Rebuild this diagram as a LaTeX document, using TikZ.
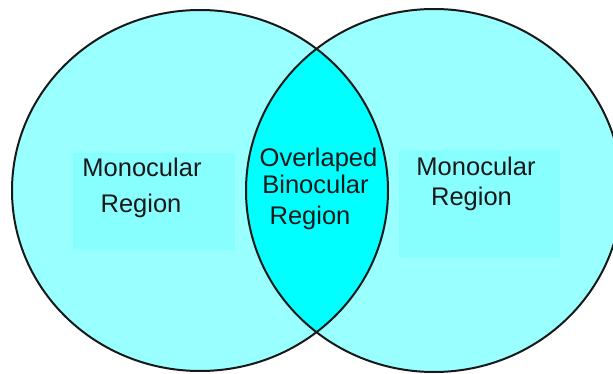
\documentclass[tikz,border=0pt]{standalone}
\usepackage{fontspec}
\setmainfont{Liberation Sans}
\definecolor{lightcyan}{HTML}{99FFFF}
\definecolor{boxcyan}{HTML}{88FFFF}
\definecolor{lenscyan}{HTML}{00FFFF}
\tikzset{
  eye/.style={line width=2pt, draw=black!90},
  regionbox/.style={fill=boxcyan, draw=none, inner sep=0pt},
  lbl/.style={font=\fontsize{25.5}{25.5}\selectfont, anchor=base, inner sep=0pt, text=black!90}
}
\begin{document}
\begin{tikzpicture}[x=1pt,y=-1pt]
\useasboundingbox[fill=white] (0,0) rectangle (613,374);
% circle fills
\fill[lightcyan] (200,190.5) ellipse [x radius=188, y radius=180.5];
\fill[lightcyan] (434,190.5) ellipse [x radius=188, y radius=181.5];
% lens
\begin{scope}
  \clip (200,190.5) ellipse [x radius=188, y radius=180.5];
  \fill[lenscyan] (434,190.5) ellipse [x radius=188, y radius=181.5];
\end{scope}
% text boxes
\node[regionbox, minimum width=162pt, minimum height=97pt] (lbox) at (154,201.5) {};
\node[regionbox, minimum width=161pt, minimum height=108pt] (rbox) at (479.5,204) {};
% outlines
\draw[eye] (200,190.5) ellipse [x radius=188, y radius=180.5];
\draw[eye] (434,190.5) ellipse [x radius=188, y radius=181.5];
% labels
\node[lbl] (l1) at (142,177) {Monocular};
\node[lbl] (l2) at (141,213) {Region};
\node[lbl] (r1) at (476,176) {Monocular};
\node[lbl] (r2) at (471.5,206) {Region};
\node[lbl] (c1) at (318.5,167) {Overlaped};
\node[lbl] (c2) at (315.5,194) {Binocular};
\node[lbl] (c3) at (310,225) {Region};
\end{tikzpicture}
\end{document}
